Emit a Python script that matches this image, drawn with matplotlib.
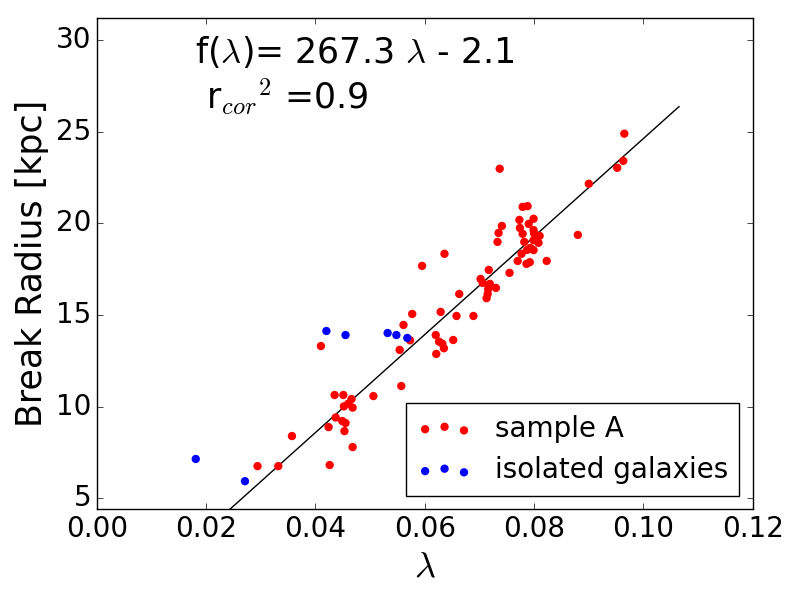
import matplotlib
matplotlib.use("Agg")
import matplotlib.pyplot as plt
import numpy as np

plt.style.use("classic")
plt.rcParams["mathtext.fontset"] = "cm"
plt.rcParams["font.family"] = ["DejaVu Sans"]

# sample A (red)
sampleA_x = [0.0577, 0.0561, 0.0573, 0.0554, 0.0410, 0.0557, 0.0506, 0.0435, 0.0451,
             0.0466, 0.0452, 0.0460, 0.0468, 0.0437, 0.0449, 0.0455, 0.0424, 0.0453,
             0.0357, 0.0468, 0.0294, 0.0332, 0.0426,
             0.0595, 0.0636, 0.0737, 0.0965, 0.0963, 0.0952, 0.0900, 0.0880, 0.0779,
             0.0788, 0.0773, 0.0799, 0.0741, 0.0735, 0.0733, 0.0774, 0.0790, 0.0779,
             0.0799, 0.0810, 0.0800, 0.0782, 0.0808, 0.0799, 0.0793, 0.0799, 0.0787,
             0.0777, 0.0770, 0.0786, 0.0792, 0.0823, 0.0755, 0.0717, 0.0702, 0.0706,
             0.0719, 0.0730, 0.0716, 0.0715, 0.0713, 0.0663, 0.0629, 0.0658, 0.0689,
             0.0620, 0.0626, 0.0632, 0.0652, 0.0635, 0.0621]
sampleA_y = [15.06, 14.46, 13.62, 13.10, 13.31, 11.13, 10.58, 10.64, 10.64,
             10.42, 10.02, 10.17, 9.95, 9.41, 9.22, 9.11, 8.89, 8.67,
             8.40, 7.80, 6.76, 6.76, 6.82,
             17.68, 18.34, 22.98, 24.89, 23.41, 23.03, 22.16, 19.37, 20.90,
             20.94, 20.19, 20.25, 19.86, 19.48, 18.99, 19.75, 19.97, 19.43,
             19.63, 19.32, 19.45, 18.99, 18.94, 19.08, 18.66, 18.54, 18.55,
             18.34, 17.95, 17.79, 17.88, 17.95, 17.30, 17.46, 16.97, 16.75,
             16.70, 16.48, 16.42, 16.15, 15.92, 16.15, 15.17, 14.95, 14.95,
             13.91, 13.55, 13.44, 13.64, 13.19, 12.88]

# isolated galaxies (blue)
iso_x = [0.0420, 0.0455, 0.0532, 0.0548, 0.0568, 0.0181, 0.0271]
iso_y = [14.13, 13.91, 14.02, 13.91, 13.75, 7.15, 5.94]

slope = 267.3
intercept = -2.1
fit_x = [0.018, 0.1065]

fig = plt.figure(figsize=(8, 6), dpi=100)
ax = fig.add_axes([0.121, 0.151, 0.820, 0.819])

ax.scatter(sampleA_x, sampleA_y, s=36, c="red", edgecolors="none", label="sample A", zorder=3)
ax.scatter(iso_x, iso_y, s=36, c="blue", edgecolors="none", label="isolated galaxies", zorder=3)
fx = np.array(fit_x)
ax.plot(fx, slope * fx + intercept, color="black", lw=1, zorder=2)

ax.set_xlim(0.0, 0.12)
ax.set_ylim(4.4, 31.2)
ax.set_xticks([0.00, 0.02, 0.04, 0.06, 0.08, 0.10, 0.12])
ax.set_yticks([5, 10, 15, 20, 25, 30])
ax.tick_params(labelsize=20)
ax.set_xlabel(r"$\lambda$", fontsize=26)
ax.set_ylabel("Break Radius [kpc]", fontsize=25)

ax.text(0.018, 28.75, r"f($\lambda$)= 267.3 $\lambda$ - 2.1", fontsize=25)
ax.text(0.018, 26.25, r" r$_{cor}$$^2$ =0.9", fontsize=25)

leg = ax.legend(loc="lower right", scatterpoints=3, fontsize=20, frameon=True)

fig.savefig("out.png", dpi=100)
